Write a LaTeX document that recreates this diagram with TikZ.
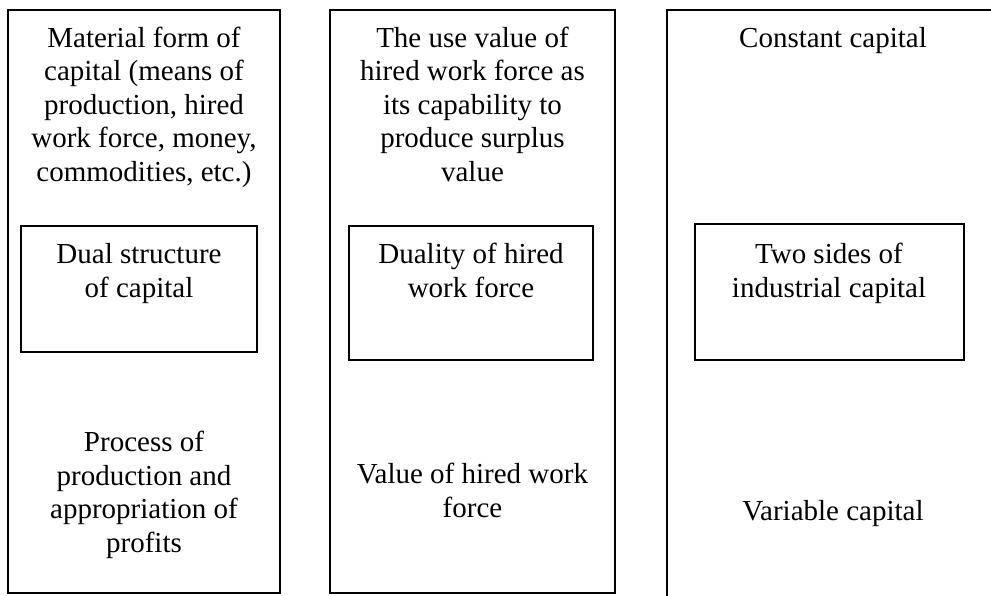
\documentclass[tikz,border=0pt]{standalone}
\usepackage{fontspec}
\setmainfont{Liberation Serif}
\begin{document}
\begin{tikzpicture}[x=1pt,y=-1pt,
  frame/.style={draw=black, line width=1.5pt, inner sep=0pt, fill=none},
  txt/.style={align=center, inner sep=0pt, anchor=base, font=\fontsize{29}{33.5}\selectfont}]
\useasboundingbox (0,0) rectangle (991,595);
% outer columns
\node[frame, minimum width=272pt, minimum height=583pt] (col1) at (144,301.5) {};
\node[frame, minimum width=285pt, minimum height=583pt] (col2) at (472.5,301.5) {};
\node[frame, minimum width=400pt, minimum height=700pt] (col3) at (867,360) {};
% inner boxes
\node[frame, minimum width=236pt, minimum height=126pt] (in1) at (139,289) {};
\node[frame, minimum width=244pt, minimum height=134pt] (in2) at (471,293) {};
\node[frame, minimum width=269pt, minimum height=136pt] (in3) at (829.5,292) {};
% texts (base anchor = baseline of the last line)
\node[txt] (t1) at (144,181) {Material form of\\capital (means of\\production, hired\\work force, money,\\commodities, etc.)};
\node[txt] (t2) at (472.5,181) {The use value of\\hired work force as\\its capability to\\produce surplus\\value};
\node[txt] (t3) at (833,47) {Constant capital};
\node[txt] (m1) at (139,297) {Dual structure\\of capital};
\node[txt] (m2) at (471,297) {Duality of hired\\work force};
\node[txt] (m3) at (829,297) {Two sides of\\industrial capital};
\node[txt] (b1) at (144,552) {Process of\\production and\\appropriation of\\profits};
\node[txt] (b2) at (472.5,517) {Value of hired work\\force};
\node[txt] (b3) at (833,520) {Variable capital};
\end{tikzpicture}
\end{document}
